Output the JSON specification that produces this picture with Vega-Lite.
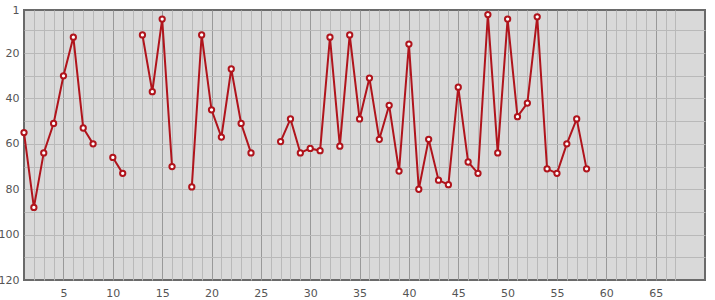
{
  "$schema": "https://vega.github.io/schema/vega-lite/v6.json",
  "width": 681,
  "height": 270,
  "autosize": "none",
  "padding": {"left": 24, "top": 10, "right": 10, "bottom": 20},
  "background": "white",
  "config": {
    "view": {"fill": "#d9d9d9", "stroke": "#6a6a6a", "strokeWidth": 2},
    "axis": {
      "labelFont": "DejaVu Sans",
      "labelFontSize": 11,
      "labelColor": "#555555",
      "domain": false,
      "ticks": false,
      "title": null,
      "labelOverlap": false,
      "labelFlush": false
    }
  },
  "data": {
    "values": [
      {"x": 1, "y": 55}, {"x": 2, "y": 88}, {"x": 3, "y": 64}, {"x": 4, "y": 51},
      {"x": 5, "y": 30}, {"x": 6, "y": 13}, {"x": 7, "y": 53}, {"x": 8, "y": 60},
      {"x": 9, "y": null}, {"x": 10, "y": 66}, {"x": 11, "y": 73}, {"x": 12, "y": null},
      {"x": 13, "y": 12}, {"x": 14, "y": 37}, {"x": 15, "y": 5}, {"x": 16, "y": 70},
      {"x": 17, "y": null}, {"x": 18, "y": 79}, {"x": 19, "y": 12}, {"x": 20, "y": 45},
      {"x": 21, "y": 57}, {"x": 22, "y": 27}, {"x": 23, "y": 51}, {"x": 24, "y": 64},
      {"x": 25, "y": null}, {"x": 26, "y": null}, {"x": 27, "y": 59}, {"x": 28, "y": 49},
      {"x": 29, "y": 64}, {"x": 30, "y": 62}, {"x": 31, "y": 63}, {"x": 32, "y": 13},
      {"x": 33, "y": 61}, {"x": 34, "y": 12}, {"x": 35, "y": 49}, {"x": 36, "y": 31},
      {"x": 37, "y": 58}, {"x": 38, "y": 43}, {"x": 39, "y": 72}, {"x": 40, "y": 16},
      {"x": 41, "y": 80}, {"x": 42, "y": 58}, {"x": 43, "y": 76}, {"x": 44, "y": 78},
      {"x": 45, "y": 35}, {"x": 46, "y": 68}, {"x": 47, "y": 73}, {"x": 48, "y": 3},
      {"x": 49, "y": 64}, {"x": 50, "y": 5}, {"x": 51, "y": 48}, {"x": 52, "y": 42},
      {"x": 53, "y": 4}, {"x": 54, "y": 71}, {"x": 55, "y": 73}, {"x": 56, "y": 60},
      {"x": 57, "y": 49}, {"x": 58, "y": 71}
    ]
  },
  "resolve": {"axis": {"x": "independent", "y": "independent"}},
  "layer": [
    {
      "mark": {"type": "line", "color": "#b0141c", "strokeWidth": 2},
      "encoding": {
        "x": {
          "field": "x", "type": "quantitative",
          "scale": {"domain": [1, 70], "nice": false, "zero": false},
          "axis": {"orient": "bottom", "values": [5, 10, 15, 20, 25, 30, 35, 40, 45, 50, 55, 60, 65], "grid": true, "gridColor": "#999999", "gridOpacity": 1, "labelPadding": 7}
        },
        "y": {
          "field": "y", "type": "quantitative",
          "scale": {"domain": [1, 120], "reverse": true, "nice": false, "zero": false},
          "axis": {"orient": "left", "values": [1, 20, 40, 60, 80, 100, 120], "grid": false, "labelPadding": 5, "labelBaseline": "middle"}
        }
      }
    },
    {
      "mark": {"type": "point", "shape": "circle", "filled": true, "fill": "white", "stroke": "#b0141c", "strokeWidth": 2, "size": 28, "opacity": 1},
      "encoding": {
        "x": {
          "field": "x", "type": "quantitative",
          "axis": {"orient": "bottom", "labels": false, "grid": true, "gridColor": "#b9b9b9", "gridOpacity": 1,
            "values": [2, 3, 4, 6, 7, 8, 9, 11, 12, 13, 14, 16, 17, 18, 19, 21, 22, 23, 24, 26, 27, 28, 29, 31, 32, 33, 34, 36, 37, 38, 39, 41, 42, 43, 44, 46, 47, 48, 49, 51, 52, 53, 54, 56, 57, 58, 59, 61, 62, 63, 64, 66, 67]}
        },
        "y": {
          "field": "y", "type": "quantitative",
          "axis": {"orient": "left", "labels": false, "grid": true, "gridColor": "#b9b9b9", "gridOpacity": 1,
            "values": [10, 20, 30, 40, 50, 60, 70, 80, 90, 100, 110]}
        }
      }
    }
  ]
}
